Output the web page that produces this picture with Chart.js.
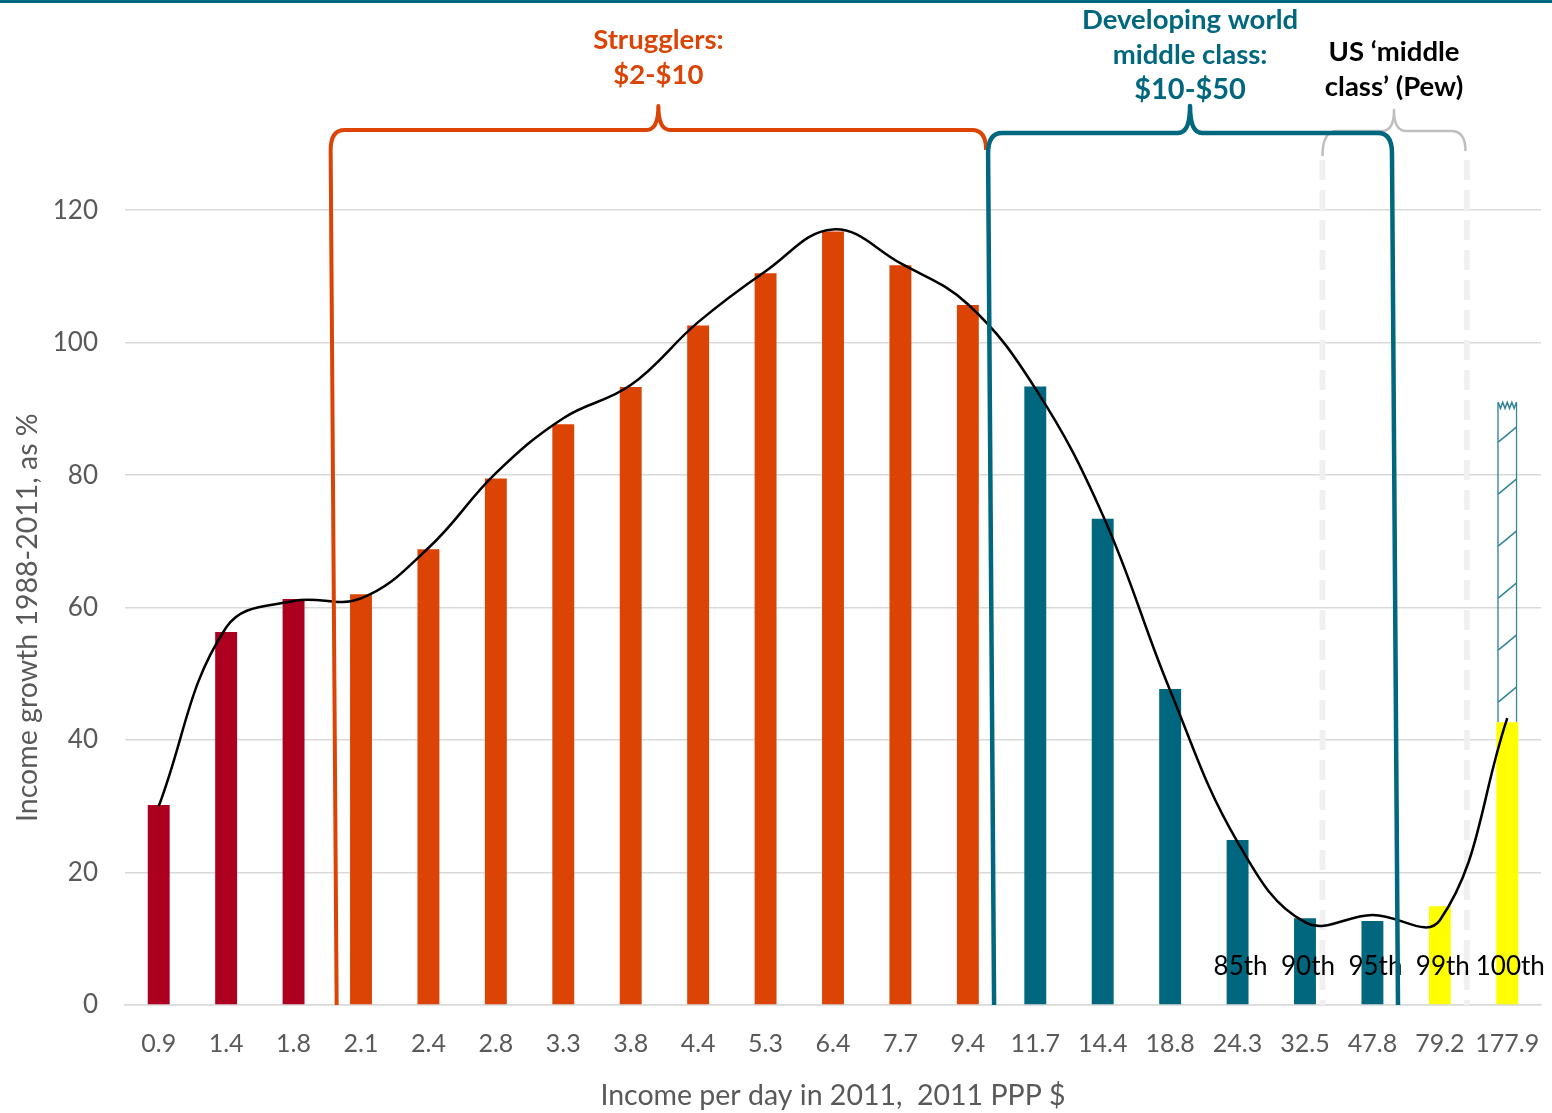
<!DOCTYPE html>
<html>
<head>
<meta charset="utf-8">
<script src="https://cdn.jsdelivr.net/npm/chart.js@4"></script>
<style>
  html, body { margin: 0; padding: 0; background: #fff; }
  #wrap { width: 1552px; height: 1113px; }
</style>
</head>
<body>
<div id="wrap"><canvas id="elephantChart" width="1552" height="1113"></canvas></div>
<script>
// income per day (2011 PPP $) at each ventile of the global distribution
const categories = ['0.9', '1.4', '1.8', '2.1', '2.4', '2.8', '3.3', '3.8', '4.4', '5.3', '6.4',
    '7.7', '9.4', '11.7', '14.4', '18.8', '24.3', '32.5', '47.8', '79.2', '177.9'];
// real income growth 1988-2011, %
const growth = [30.2, 56.3, 61.3, 62.0, 68.8, 79.5, 87.7, 93.3, 102.6, 110.5, 116.8,
    111.7, 105.7, 93.4, 73.4, 47.7, 24.9, 13.1, 12.7, 14.9, 42.7];
// smoothed curve drawn over the bars
const trend = [30.0, 57.0, 61.0, 61.4, 69.0, 80.3, 88.6, 93.6, 103.1, 110.8, 117.1,
    112.0, 105.8, 93.1, 74.0, 47.5, 24.6, 12.5, 13.6, 12.8, 43.3];
// top-coded estimate for the richest group (hatched part)
const topCoded = [null, null, null, null, null, null, null, null, null, null, null,
    null, null, null, null, null, null, null, null, null, 91.0];
const groups = ['poor', 'poor', 'poor', 'struggler', 'struggler', 'struggler', 'struggler',
    'struggler', 'struggler', 'struggler', 'struggler', 'struggler', 'struggler',
    'middle', 'middle', 'middle', 'middle', 'middle', 'middle', 'top', 'top'];
const percentileLabels = ['85th', '90th', '95th', '99th', '100th'];
const percentileAt = ['24.3', '32.5', '47.8', '79.2', '177.9'];
const yTicks = [0, 20, 40, 60, 80, 100, 120];

const groupColors = { poor: '#AD0021', struggler: '#DC4405', middle: '#00677F', top: '#FFFF00' };
const FONT = 'Lato, "Open Sans", sans-serif';

const xPos = chart => {
    const x = chart.scales.x;
    const step = x.getPixelForTick(1) - x.getPixelForTick(0);
    return f => x.getPixelForTick(0) + f * step;
};

const annotations = {
    id: 'annotations',
    beforeDatasetsDraw(chart) {
        const { ctx, scales: { y } } = chart;
        const px = xPos(chart);
        // dashed bounds of the US middle class
        ctx.save();
        ctx.strokeStyle = '#F0F0F0';
        ctx.lineWidth = 6;
        ctx.setLineDash([20, 10]);
        [17.26, 19.4].forEach(f => {
            ctx.beginPath();
            ctx.moveTo(px(f), 160);
            ctx.lineTo(px(f), y.getPixelForValue(0));
            ctx.stroke();
        });
        ctx.restore();

        // y axis title (sits lower than the axis centre in the original)
        ctx.save();
        ctx.translate(28, y.getPixelForValue(60) + 10);
        ctx.rotate(-Math.PI / 2);
        ctx.font = '28.5px ' + FONT;
        ctx.fillStyle = '#595959';
        ctx.textAlign = 'center';
        ctx.textBaseline = 'middle';
        ctx.fillText('Income growth 1988-2011, as %', 0, 0);
        ctx.restore();
    },
    afterDatasetsDraw(chart) {
        const { ctx, scales: { x, y } } = chart;
        const px = xPos(chart);
        const base = y.getPixelForValue(0);

        // hatch + zigzag top on the top-coded bar
        const hatchMeta = chart.getDatasetMeta(1);
        hatchMeta.data.forEach((bar, i) => {
            if (topCoded[i] == null) return;
            const { x: cx, y: top, base: bottom, width } = bar.getProps(['x', 'y', 'base', 'width'], true);
            const l = cx - width / 2 + 1, r = cx + width / 2 - 1;
            ctx.save();
            ctx.strokeStyle = '#31849B';
            ctx.lineWidth = 1.5;
            for (let yy = bottom - 20; yy > top + 25; yy -= 52) {
                ctx.beginPath();
                ctx.moveTo(l, yy);
                ctx.lineTo(r, yy - 15);
                ctx.stroke();
            }
            ctx.beginPath();
            ctx.moveTo(l, top);
            const n = 4;
            for (let k = 0; k <= n * 2; k++) {
                ctx.lineTo(l + (r - l) * k / (n * 2), top + (k % 2 ? 6 : 0));
            }
            ctx.stroke();
            ctx.restore();
        });

        // percentile labels
        ctx.save();
        ctx.font = '26px ' + FONT;
        ctx.fillStyle = '#000';
        ctx.textAlign = 'center';
        ctx.textBaseline = 'middle';
        percentileLabels.forEach((t, i) => {
            ctx.fillText(t, x.getPixelForValue(categories.indexOf(percentileAt[i])) + 3, y.getPixelForValue(5.8));
        });
        ctx.restore();

        const brace = (l, r, yb, peak, color, width, legL, legR) => {
            const m = (l + r) / 2;
            ctx.save();
            ctx.strokeStyle = color;
            ctx.lineWidth = width;
            ctx.lineJoin = 'round';
            ctx.beginPath();
            if (legL) { ctx.moveTo(l + 6, base); ctx.lineTo(l, yb + 20); }
            else ctx.moveTo(l, yb + 25);
            ctx.quadraticCurveTo(l, yb, l + 14, yb);
            ctx.lineTo(m - 12, yb);
            ctx.quadraticCurveTo(m, yb, m, peak);
            ctx.quadraticCurveTo(m, yb, m + 12, yb);
            ctx.lineTo(r - 14, yb);
            ctx.quadraticCurveTo(r, yb, r, yb + 20);
            if (legR) ctx.lineTo(r + 6, base);
            ctx.stroke();
            ctx.restore();
            return m;
        };

        const mGrey = brace(px(17.26), px(19.38), 131, 110, '#BFBFBF', 2.5, false, false);
        const mOrange = brace(px(2.55), px(12.27), 130, 106, '#DC4405', 4, true, false);
        const mTeal = brace(px(12.3), px(18.29), 133, 106, '#00677F', 4.5, true, true);

        ctx.save();
        ctx.textAlign = 'center';
        ctx.textBaseline = 'middle';
        ctx.font = 'bold 27.5px ' + FONT;
        ctx.fillStyle = '#DC4405';
        ctx.fillText('Strugglers:', mOrange, 40);
        ctx.fillText('$2-$10', mOrange, 75);
        ctx.fillStyle = '#00677F';
        ctx.fillText('Developing world', mTeal, 20);
        ctx.fillText('middle class:', mTeal, 55);
        ctx.font = 'bold 29px ' + FONT;
        ctx.fillText('$10-$50', mTeal, 90);
        ctx.font = 'bold 27.5px ' + FONT;
        ctx.fillStyle = '#000';
        ctx.fillText('US \u2018middle', mGrey, 52);
        ctx.fillText('class\u2019 (Pew)', mGrey, 87);
        ctx.restore();

        // top rule
        ctx.save();
        ctx.fillStyle = '#00677F';
        ctx.fillRect(0, 0, chart.width, 3);
        ctx.restore();
    }
};

document.addEventListener('DOMContentLoaded', () => {
    const ctx = document.getElementById('elephantChart').getContext('2d');
    const elephantChart = new Chart(ctx, {
        type: 'bar',
        data: {
            labels: categories,
            datasets: [{
                type: 'line',
                label: 'Trend',
                data: trend,
                borderColor: '#000',
                borderWidth: 2.5,
                pointRadius: 0,
                tension: 0.4,
                fill: false,
                order: 0
            }, {
                label: 'Top-coded',
                data: topCoded.map((v, i) => v == null ? null : [growth[i], v]),
                backgroundColor: 'rgba(255,255,255,0)',
                borderColor: '#31849B',
                borderWidth: { left: 1.5, right: 1.5, top: 0, bottom: 0 },
                borderSkipped: false,
                categoryPercentage: 1,
                barPercentage: 0.3,
                order: 2
            }, {
                label: 'Income growth',
                data: growth,
                backgroundColor: groups.map(g => groupColors[g]),
                categoryPercentage: 1,
                barPercentage: 0.325,
                order: 3
            }]
        },
        options: {
            responsive: false,
            animation: false,
            layout: { padding: { top: 144, right: 11, left: 0, bottom: 0 } },
            plugins: { legend: { display: false }, tooltip: { enabled: false } },
            scales: {
                x: {
                    stacked: true,
                    grid: { display: false, drawTicks: false },
                    border: { display: true, color: '#D9D9D9', width: 1.5 },
                    ticks: { color: '#595959', font: { family: FONT, size: 25 }, padding: 24, maxRotation: 0, autoSkip: false },
                    title: {
                        display: true,
                        text: 'Income per day in 2011,  2011 PPP $',
                        color: '#595959',
                        font: { family: FONT, size: 28.5 },
                        padding: { top: 0, bottom: 0 }
                    },
                    afterFit: s => { s.height = 108; s.paddingLeft = 0; s.paddingRight = 11; }
                },
                y: {
                    min: 0,
                    max: 130,
                    afterBuildTicks: s => { s.ticks = yTicks.map(v => ({ value: v })); },
                    grid: { color: '#D9D9D9', lineWidth: 1.5, drawTicks: false },
                    border: { display: false },
                    ticks: { color: '#595959', font: { family: FONT, size: 26 }, padding: 27 },
                    afterFit: s => { s.width = 125; }
                }
            }
        },
        plugins: [annotations]
    });
});
</script>
</body>
</html>
